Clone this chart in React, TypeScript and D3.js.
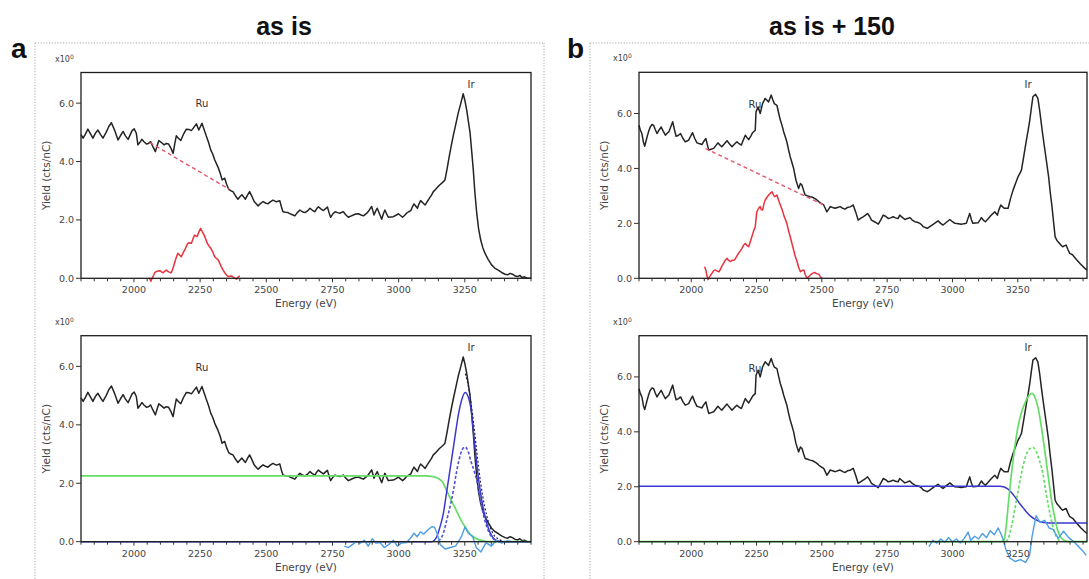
import React from "react";
import * as d3 from "d3";

type P = [number, number];

const xTicks = [2000, 2250, 2500, 2750, 3000, 3250];
const yTicks = [0, 2, 4, 6];
const yTickLabels = ["0.0", "2.0", "4.0", "6.0"];
const panelTitles = ["as is", "as is + 150"];
const panelLetters = ["a", "b"];

// Panel a: measured spectrum (as is)
const specA: P[] = [[1800,4.92],[1808,4.80],[1817,4.95],[1826,5.11],[1836,4.95],[1845,4.80],[1855,4.98],[1864,5.08],[1874,4.92],[1883,4.80],[1895,5.0],[1905,5.2],[1915,5.33],[1928,5.05],[1940,4.74],[1950,4.9],[1959,5.03],[1968,4.88],[1978,4.76],[1986,4.92],[1993,5.06],[2001,5.12],[2009,4.97],[2015,4.57],[2022,4.65],[2030,4.76],[2038,4.68],[2047,4.60],[2055,4.62],[2063,4.68],[2072,4.5],[2081,4.34],[2088,4.55],[2094,4.72],[2104,4.65],[2114,4.57],[2122,4.62],[2131,4.60],[2140,4.45],[2148,4.28],[2154,4.6],[2160,4.88],[2168,4.8],[2177,4.72],[2188,4.95],[2198,5.11],[2208,5.1],[2217,5.06],[2227,5.18],[2236,5.29],[2245,5.08],[2257,5.31],[2265,5.1],[2273,4.88],[2282,4.65],[2290,4.40],[2298,4.25],[2305,4.06],[2312,3.92],[2318,3.80],[2326,3.6],[2333,3.37],[2343,3.43],[2350,3.22],[2358,3.05],[2366,3.0],[2374,2.97],[2384,2.82],[2393,2.71],[2401,2.8],[2408,2.86],[2415,2.78],[2421,2.71],[2429,2.85],[2437,2.97],[2446,2.8],[2454,2.63],[2462,2.55],[2469,2.48],[2478,2.56],[2488,2.63],[2497,2.58],[2506,2.55],[2515,2.62],[2525,2.68],[2538,2.62],[2551,2.66],[2557,2.45],[2563,2.28],[2572,2.26],[2582,2.25],[2592,2.2],[2601,2.17],[2608,2.14],[2617,2.25],[2627,2.34],[2636,2.28],[2646,2.25],[2655,2.3],[2665,2.40],[2674,2.33],[2684,2.28],[2690,2.38],[2697,2.45],[2706,2.38],[2716,2.32],[2723,2.38],[2731,2.44],[2737,2.25],[2743,2.09],[2751,2.2],[2760,2.28],[2769,2.25],[2778,2.23],[2785,2.26],[2791,2.28],[2800,2.18],[2810,2.09],[2819,2.13],[2829,2.17],[2838,2.2],[2848,2.21],[2858,2.17],[2867,2.14],[2875,2.2],[2882,2.25],[2890,2.35],[2898,2.46],[2903,2.3],[2907,2.17],[2913,2.3],[2919,2.40],[2928,2.2],[2936,2.02],[2942,2.2],[2948,2.34],[2955,2.2],[2961,2.09],[2970,2.1],[2980,2.11],[2990,2.16],[2999,2.21],[3007,2.15],[3015,2.09],[3022,2.15],[3030,2.23],[3038,2.28],[3046,2.32],[3052,2.45],[3058,2.55],[3065,2.47],[3071,2.40],[3077,2.55],[3083,2.66],[3092,2.58],[3100,2.51],[3108,2.63],[3116,2.74],[3124,2.85],[3131,2.97],[3138,3.03],[3144,3.09],[3153,3.18],[3163,3.26],[3170,3.32],[3175,3.37],[3183,3.75],[3191,4.17],[3199,4.55],[3207,4.91],[3216,5.28],[3225,5.66],[3235,6.0],[3244,6.32],[3250,6.1],[3257,5.77],[3263,5.4],[3270,4.97],[3276,4.35],[3282,3.71],[3288,2.95],[3295,2.23],[3302,1.7],[3310,1.31],[3318,1.05],[3326,0.86],[3338,0.65],[3351,0.46],[3363,0.35],[3376,0.28],[3389,0.2],[3402,0.14],[3412,0.12],[3421,0.17],[3430,0.14],[3440,0.08],[3450,0.06],[3458,0.1],[3466,0.03],[3475,0.05],[3485,0.01],[3500,0.0]];

const diffA: P[] = [[2058,0.02],[2064,-0.1],[2072,0.06],[2079,0.2],[2085,0.23],[2092,0.25],[2098,0.26],[2104,0.22],[2110,0.19],[2116,0.24],[2122,0.28],[2131,0.22],[2141,0.19],[2148,0.35],[2154,0.54],[2160,0.72],[2166,0.86],[2172,0.8],[2179,0.74],[2186,0.88],[2192,0.97],[2198,1.1],[2204,1.20],[2210,1.22],[2217,1.20],[2223,1.35],[2229,1.48],[2234,1.45],[2239,1.43],[2246,1.6],[2252,1.71],[2258,1.6],[2265,1.48],[2271,1.35],[2277,1.20],[2284,1.1],[2290,1.03],[2298,0.9],[2305,0.74],[2312,0.68],[2318,0.63],[2324,0.52],[2330,0.40],[2337,0.28],[2343,0.19],[2349,0.12],[2355,0.06],[2362,0.07],[2370,0.08],[2378,0.02],[2387,-0.03],[2393,0.04],[2400,0.08]];
const baseA: P[] = [[2060,4.65],[2360,3.05]];

const bgStepA: P[] = [[1800,2.25],[3100,2.25],[3130,2.23],[3150,2.16],[3165,2.05],[3181,1.76],[3195,1.48],[3208,1.25],[3219,1.05],[3235,0.75],[3251,0.51],[3266,0.3],[3282,0.17],[3300,0.08],[3320,0.03],[3340,0.0],[3500,0.0]];
const peakA: P[] = [[1800,0],[3125,0],[3135,0.05],[3144,0.17],[3156,0.5],[3169,0.97],[3178,1.5],[3188,2.1],[3198,2.7],[3207,3.24],[3217,3.85],[3226,4.37],[3238,4.85],[3251,5.11],[3263,4.95],[3276,4.37],[3285,3.55],[3295,2.67],[3304,2.0],[3314,1.42],[3323,0.98],[3333,0.63],[3345,0.32],[3358,0.12],[3370,0.04],[3385,0],[3500,0]];
const peakA2: P[] = [[3150,0.02],[3160,0.12],[3169,0.29],[3178,0.6],[3188,0.97],[3198,1.35],[3207,1.76],[3217,2.3],[3228,2.8],[3240,3.15],[3251,3.24],[3262,3.1],[3273,2.75],[3284,2.45],[3295,2.1],[3305,1.62],[3314,1.2],[3323,0.82],[3333,0.51],[3345,0.25],[3358,0.1],[3370,0.03]];
const envA: P[] = [[3252,5.75],[3265,5.25],[3280,4.3],[3295,3.1],[3310,2.0],[3325,1.2],[3340,0.65],[3355,0.3],[3375,0.1],[3395,0.02]];
const residA: P[] = [[2795,-0.15],[2810,-0.2],[2825,-0.1],[2840,0.0],[2855,-0.05],[2870,0.05],[2885,-0.15],[2900,0.1],[2915,-0.05],[2930,-0.03],[2945,-0.2],[2962,-0.1],[2980,0.05],[2995,-0.15],[3010,-0.05],[3030,-0.03],[3049,0.17],[3058,0.29],[3070,0.17],[3082,0.34],[3095,0.26],[3110,0.4],[3125,0.51],[3135,0.5],[3145,0.29],[3157,-0.1],[3176,-0.25],[3195,-0.2],[3215,-0.15],[3237,0.17],[3251,0.51],[3262,0.3],[3280,0.17],[3293,-0.2],[3311,-0.35],[3330,-0.03],[3350,-0.15],[3371,0.05],[3390,-0.05],[3410,0.03],[3430,0.0]];

// Panel b: measured spectrum (as is + 150)
const specB: P[] = [[1800,5.57],[1805,5.4],[1811,5.27],[1817,4.95],[1822,4.81],[1827,5.0],[1831,5.15],[1837,5.35],[1843,5.51],[1850,5.6],[1856,5.57],[1862,5.42],[1869,5.27],[1877,5.4],[1885,5.51],[1893,5.35],[1901,5.21],[1908,5.28],[1914,5.33],[1921,5.5],[1929,5.70],[1936,5.4],[1942,5.17],[1950,5.2],[1959,5.27],[1968,5.1],[1977,4.97],[1984,5.0],[1990,5.03],[1998,5.18],[2005,5.30],[2013,5.1],[2022,4.93],[2032,4.9],[2041,4.87],[2049,5.0],[2056,5.09],[2062,4.85],[2067,4.67],[2076,4.7],[2086,4.73],[2094,4.83],[2102,4.93],[2110,4.85],[2117,4.79],[2127,4.9],[2137,5.01],[2146,4.9],[2156,4.79],[2165,4.88],[2175,4.97],[2183,4.9],[2192,4.85],[2200,5.05],[2207,5.21],[2213,5.13],[2220,5.05],[2228,5.18],[2235,5.30],[2245,5.39],[2248,6.06],[2256,6.24],[2264,6.0],[2273,6.36],[2283,6.55],[2290,6.48],[2296,6.42],[2306,6.67],[2312,6.5],[2318,6.36],[2328,6.30],[2335,6.0],[2341,5.76],[2348,5.55],[2354,5.33],[2360,5.15],[2366,4.97],[2372,4.7],[2379,4.42],[2386,4.2],[2392,4.0],[2396,3.8],[2401,3.57],[2406,3.42],[2411,3.27],[2418,3.45],[2424,3.39],[2430,3.2],[2436,3.03],[2446,3.0],[2455,2.97],[2464,2.95],[2472,2.91],[2480,2.86],[2488,2.79],[2498,2.72],[2507,2.67],[2513,2.55],[2519,2.42],[2525,2.5],[2532,2.61],[2541,2.58],[2551,2.55],[2560,2.58],[2570,2.61],[2580,2.55],[2589,2.52],[2598,2.58],[2608,2.6],[2615,2.64],[2620,2.67],[2630,2.4],[2639,2.12],[2648,2.18],[2658,2.24],[2667,2.3],[2675,2.36],[2683,2.25],[2690,2.12],[2703,2.05],[2716,1.97],[2725,2.12],[2735,2.30],[2745,2.25],[2754,2.18],[2763,2.2],[2773,2.24],[2782,2.2],[2792,2.18],[2798,2.30],[2808,2.22],[2818,2.14],[2828,2.18],[2837,2.21],[2846,2.12],[2856,2.06],[2866,2.04],[2875,2.0],[2882,1.95],[2888,1.88],[2896,1.85],[2904,1.82],[2913,1.88],[2922,1.94],[2934,2.02],[2945,2.09],[2955,2.0],[2964,1.94],[2977,2.04],[2990,2.14],[3000,2.06],[3009,2.0],[3022,1.99],[3034,1.97],[3044,1.99],[3053,2.0],[3060,2.2],[3066,2.36],[3072,2.15],[3078,2.0],[3088,2.01],[3098,2.02],[3105,2.12],[3111,2.21],[3118,2.12],[3126,2.06],[3135,2.15],[3143,2.24],[3152,2.33],[3162,2.42],[3167,2.36],[3172,2.30],[3178,2.5],[3185,2.67],[3192,2.6],[3198,2.55],[3206,2.55],[3213,2.55],[3222,2.9],[3232,3.21],[3242,3.47],[3251,3.70],[3258,3.82],[3264,3.94],[3274,4.5],[3283,5.03],[3290,5.4],[3296,5.76],[3302,6.2],[3308,6.61],[3318,6.70],[3327,6.55],[3334,6.1],[3340,5.64],[3346,5.2],[3352,4.79],[3360,4.25],[3368,3.70],[3374,3.15],[3381,2.61],[3387,2.05],[3393,1.51],[3400,1.38],[3410,1.27],[3416,1.2],[3422,1.15],[3428,1.18],[3435,1.21],[3442,1.05],[3449,0.91],[3460,0.85],[3476,0.67],[3490,0.52],[3505,0.38],[3515,0.3]];

const diffB: P[] = [[2051,0.42],[2056,0.3],[2060,0.1],[2064,-0.05],[2070,0.05],[2079,0.18],[2086,0.28],[2092,0.30],[2100,0.26],[2107,0.24],[2115,0.4],[2124,0.55],[2130,0.65],[2137,0.73],[2143,0.65],[2150,0.61],[2158,0.66],[2166,0.67],[2174,0.8],[2181,0.91],[2188,1.0],[2194,1.09],[2200,1.2],[2207,1.27],[2213,1.2],[2220,1.15],[2226,1.33],[2232,1.51],[2238,1.7],[2245,1.88],[2251,2.42],[2258,2.55],[2264,2.61],[2268,2.5],[2273,2.48],[2278,2.7],[2283,2.85],[2290,2.95],[2296,3.03],[2303,3.1],[2309,3.15],[2314,3.05],[2319,2.97],[2324,3.0],[2328,3.03],[2334,2.85],[2341,2.67],[2348,2.5],[2354,2.30],[2360,2.15],[2366,2.0],[2372,1.75],[2379,1.51],[2386,1.25],[2392,1.03],[2398,0.8],[2405,0.61],[2411,0.4],[2418,0.24],[2424,0.28],[2431,0.30],[2437,0.12],[2443,0.0],[2450,0.06],[2456,0.12],[2464,0.18],[2472,0.21],[2480,0.17],[2488,0.15],[2494,0.06],[2500,0.0]];
const baseB: P[] = [[2055,4.72],[2505,2.68]];

const bgStepB: P[] = [[1800,2.02],[3180,2.02],[3195,2.0],[3210,1.93],[3225,1.8],[3240,1.62],[3255,1.42],[3270,1.24],[3285,1.06],[3300,0.92],[3315,0.82],[3330,0.75],[3345,0.71],[3360,0.69],[3380,0.68],[3515,0.68]];
const peakB: P[] = [[1800,0],[3185,0],[3197,0.06],[3205,0.5],[3215,1.5],[3226,2.49],[3238,3.4],[3251,4.19],[3264,4.7],[3277,5.04],[3291,5.3],[3305,5.4],[3316,5.25],[3327,4.91],[3340,4.2],[3353,3.34],[3362,2.7],[3372,2.0],[3381,1.4],[3391,0.91],[3400,0.5],[3410,0.24],[3420,0.1],[3432,0.03],[3445,0],[3515,0]];
const peakB2: P[] = [[3205,0.0],[3213,0.1],[3226,0.55],[3245,1.52],[3264,2.49],[3280,3.1],[3295,3.38],[3308,3.43],[3320,3.3],[3333,2.95],[3346,2.49],[3357,1.85],[3368,1.27],[3378,0.8],[3388,0.43],[3396,0.22],[3404,0.1],[3415,0.02]];
const residB: P[] = [[2910,-0.18],[2925,0.05],[2940,-0.05],[2955,0.1],[2970,-0.02],[2985,0.15],[3000,0.0],[3015,0.1],[3030,-0.05],[3045,0.12],[3060,0.35],[3070,0.05],[3085,0.2],[3100,0.1],[3115,0.3],[3130,0.15],[3145,0.4],[3160,0.25],[3175,0.5],[3185,0.3],[3195,0.05],[3205,-0.3],[3220,-0.6],[3240,-0.72],[3260,-0.65],[3280,-0.75],[3295,-0.5],[3305,0.2],[3320,0.95],[3335,0.7],[3353,0.78],[3370,0.5],[3385,0.45],[3405,0.12],[3425,0.38],[3445,0.15],[3465,0.0],[3485,-0.2],[3500,-0.35],[3512,-0.5]];

type Series = { data: P[]; color: string; width: number; dash?: string; smooth?: boolean };
type PanelCfg = {
  x0: number; x1: number; y0: number; y1: number;
  xDom: [number, number]; yMax: number;
  series: Series[];
  ru: [number, number]; ir: [number, number];
};

const BLACK = "#242424";
const RED = "#e8323c";
const RED_D = "#e4566e";
const GREEN = "#66dd66";
const BLUE = "#3a3ad0";
const LBLUE = "#4b9ee6";
const TXT = "#454545";
const FONT = "'DejaVu Sans', Verdana, sans-serif";

function Panel({ cfg }: { cfg: PanelCfg }) {
  const { x0, x1, y0, y1, xDom, yMax } = cfg;
  const x = d3.scaleLinear().domain(xDom).range([x0, x1]);
  const y = d3.scaleLinear().domain([0, yMax]).range([y1, y0]);
  const lin = d3.line<P>().x((d) => x(d[0])).y((d) => y(d[1]));
  const smo = d3.line<P>().x((d) => x(d[0])).y((d) => y(d[1])).curve(d3.curveMonotoneX);
  const minor = d3.range(1800, xDom[1] + 1, 50);
  return (
    <g>
      {cfg.series.map((s, i) => (
        <path key={i} d={(s.smooth ? smo : lin)(s.data) || ""} fill="none" stroke={s.color}
          strokeWidth={s.width} strokeDasharray={s.dash} strokeLinejoin="round" />
      ))}
      <rect x={x0} y={y0} width={x1 - x0} height={y1 - y0} fill="none" stroke="#1e1e1e" strokeWidth={1.3} />
      {minor.map((t) => (
        <line key={"m" + t} x1={x(t)} x2={x(t)} y1={y1} y2={y1 + (xTicks.includes(t) ? 4 : 3)} stroke="#333" strokeWidth={1} />
      ))}
      {xTicks.map((t) => (
        <text key={"xt" + t} x={x(t)} y={y1 + 15} textAnchor="middle" fontSize={9.5} fill={TXT} fontFamily={FONT}>{t}</text>
      ))}
      {yTicks.map((t, i) => (
        <g key={"yt" + t}>
          <line x1={x0 - 5} x2={x0} y1={y(t)} y2={y(t)} stroke="#333" strokeWidth={1} />
          <text x={x0 - 7} y={y(t) + 3.5} textAnchor="end" fontSize={9.5} fill={TXT} fontFamily={FONT}>{yTickLabels[i]}</text>
        </g>
      ))}
      <text x={(x0 + x1) / 2} y={y1 + 29} textAnchor="middle" fontSize={10.5} fill={TXT} fontFamily={FONT}>Energy (eV)</text>
      <text transform={`translate(${x0 - 31},${(y0 + y1) / 2}) rotate(-90)`} textAnchor="middle" fontSize={10.5} fill={TXT} fontFamily={FONT}>Yield (cts/nC)</text>
      <text x={x0 - 26} y={y0 - 11} fontSize={8} fill={TXT} fontFamily={FONT}>x10<tspan dy={-3} fontSize={6}>0</tspan></text>
      <text x={cfg.ru[0]} y={cfg.ru[1]} textAnchor="middle" fontSize={10} fill="#333" fontFamily={FONT}>Ru</text>
      <text x={cfg.ir[0]} y={cfg.ir[1]} textAnchor="middle" fontSize={10} fill="#333" fontFamily={FONT}>Ir</text>
    </g>
  );
}

export default function App() {
  const aTop: PanelCfg = {
    x0: 81, x1: 531, y0: 72.5, y1: 278.3, xDom: [1800, 3500], yMax: 7.05,
    series: [
      { data: specA, color: BLACK, width: 1.5 },
      { data: baseA, color: RED_D, width: 1.4, dash: "4,3" },
      { data: diffA, color: RED, width: 1.5 },
    ],
    ru: [202, 107], ir: [471, 88],
  };
  const aBot: PanelCfg = {
    x0: 81, x1: 531, y0: 335.7, y1: 541.7, xDom: [1800, 3500], yMax: 7.05,
    series: [
      { data: specA, color: BLACK, width: 1.5 },
      { data: bgStepA, color: GREEN, width: 1.7, smooth: true },
      { data: peakA, color: BLUE, width: 1.5, smooth: true },
      { data: peakA2, color: "#5050d8", width: 1.6, dash: "3,2", smooth: true },
      { data: envA, color: "#202060", width: 1.2, dash: "2,2", smooth: true },
      { data: residA, color: LBLUE, width: 1.4 },
    ],
    ru: [202, 371], ir: [471, 351],
  };
  const bTop: PanelCfg = {
    x0: 639, x1: 1087, y0: 72.3, y1: 278.3, xDom: [1800, 3515], yMax: 7.5,
    series: [
      { data: specB, color: BLACK, width: 1.5 },
      { data: baseB, color: RED_D, width: 1.4, dash: "4,3" },
      { data: diffB, color: RED, width: 1.5 },
    ],
    ru: [755, 108], ir: [1028, 88],
  };
  const bBot: PanelCfg = {
    x0: 639, x1: 1087, y0: 335.7, y1: 541.7, xDom: [1800, 3515], yMax: 7.5,
    series: [
      { data: specB, color: BLACK, width: 1.5 },
      { data: bgStepB, color: BLUE, width: 1.5, smooth: true },
      { data: peakB, color: GREEN, width: 1.7, smooth: true },
      { data: peakB2, color: GREEN, width: 1.7, dash: "3,2", smooth: true },
      { data: residB, color: LBLUE, width: 1.4 },
    ],
    ru: [755, 372], ir: [1028, 351],
  };
  const dot = { stroke: "#a8a8a8", strokeWidth: 1, strokeDasharray: "1.2,1.6" };
  return (
    <svg width={1089} height={579} style={{ position: "absolute", left: 0, top: 0, display: "block", background: "#fff" }}>
      <rect x={0} y={0} width={1089} height={579} fill="#fff" />
      <line x1={35} x2={544} y1={43} y2={43} {...dot} />
      <line x1={35} x2={35} y1={43} y2={579} {...dot} />
      <line x1={544} x2={544} y1={43} y2={579} {...dot} />
      <line x1={590} x2={1089} y1={43} y2={43} {...dot} />
      <line x1={590} x2={590} y1={43} y2={579} {...dot} />
      <text x={284} y={35} textAnchor="middle" fontSize={25} fontWeight="bold" fill="#111" fontFamily="'Liberation Sans', Arial, sans-serif">{panelTitles[0]}</text>
      <text x={832} y={35} textAnchor="middle" fontSize={25} fontWeight="bold" fill="#111" fontFamily="'Liberation Sans', Arial, sans-serif">{panelTitles[1]}</text>
      <text x={11} y={58} fontSize={28} fontWeight="bold" fill="#111" fontFamily="'Liberation Sans', Arial, sans-serif">{panelLetters[0]}</text>
      <text x={567} y={58} fontSize={28} fontWeight="bold" fill="#111" fontFamily="'Liberation Sans', Arial, sans-serif">{panelLetters[1]}</text>
      <Panel cfg={aTop} />
      <Panel cfg={aBot} />
      <Panel cfg={bTop} />
      <Panel cfg={bBot} />
    </svg>
  );
}
